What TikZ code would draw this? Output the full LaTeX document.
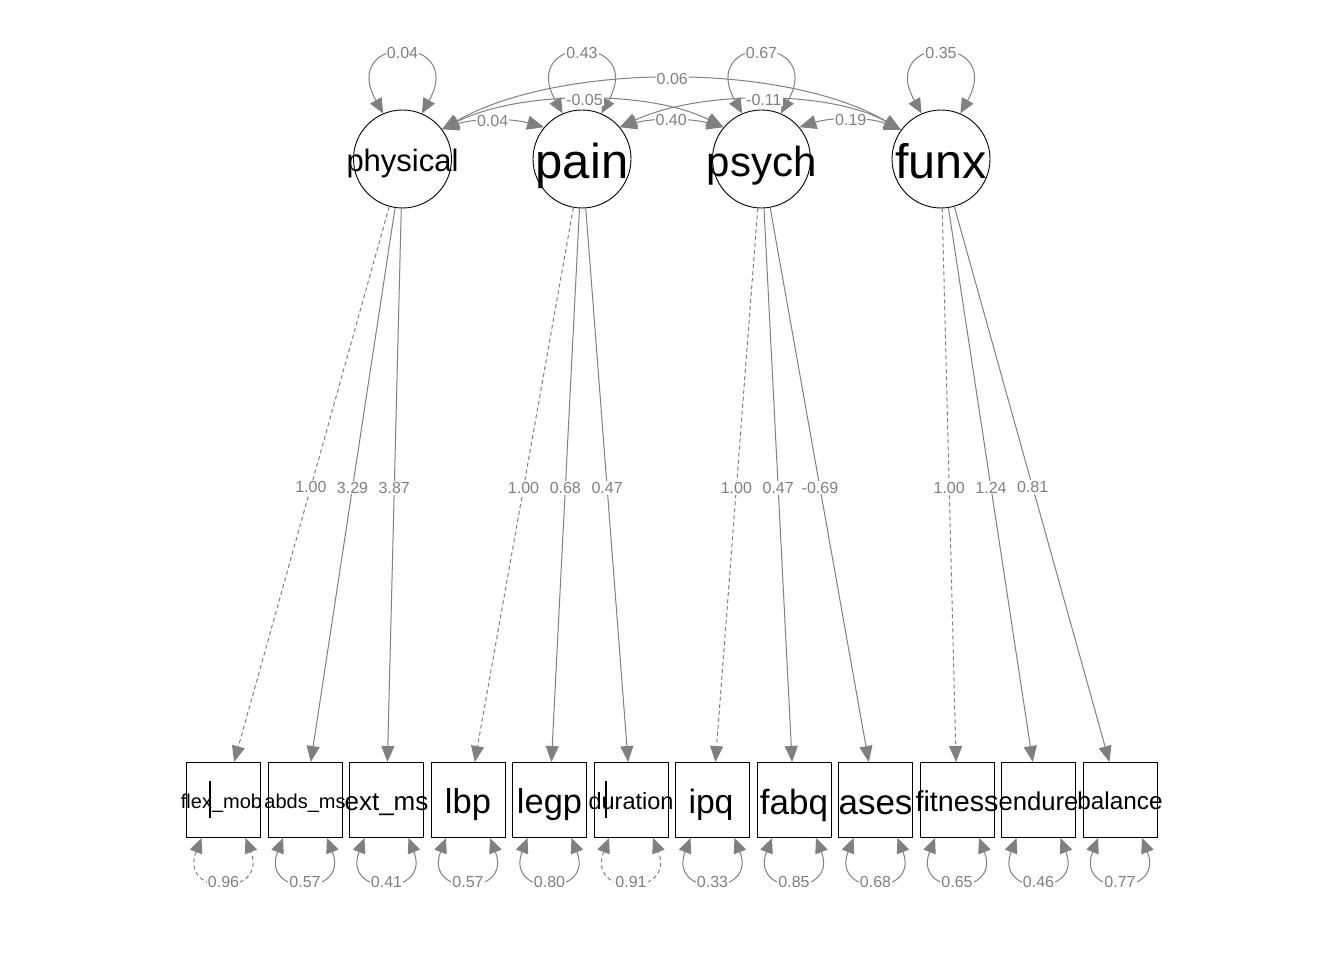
\documentclass[tikz,border=0pt]{standalone}
\usepackage{fontspec}
\setmainfont{Liberation Sans}
\usetikzlibrary{arrows.meta,calc}
\newcommand\fsz[1]{\fontsize{#1}{#1}\selectfont}
\definecolor{edgec}{HTML}{808080}
\begin{document}
\begin{tikzpicture}[x=1pt,y=-1pt,
 lat/.style={circle,draw=black,line width=0.9pt,minimum size=98pt,inner sep=0pt},
 man/.style={rectangle,draw=black,line width=1pt,minimum width=74pt,minimum height=75pt,inner sep=0pt},
 txt/.style={anchor=base,inner sep=0pt,text=black},
 edg/.style={draw=edgec,color=edgec,line width=1pt},
 arr/.style={edg,-{Triangle[length=16pt,width=13pt]}},
 barr/.style={edg,{Triangle[length=15pt,width=13pt]}-{Triangle[length=15pt,width=13pt]}},
 carr/.style={edg,{Triangle[length=17pt,width=14pt]}-{Triangle[length=17pt,width=14pt]}},
 fixedline/.style={dash pattern=on 4pt off 3pt},
 lab/.style={fill=white,inner sep=1pt,text=edgec,font=\fsz{16}},
]
\useasboundingbox (0,0) rectangle (1344,960);

% latent variables
\node[lat] (physical) at (402.5,159) {};
\node[lat] (pain) at (582,159) {};
\node[lat] (psych) at (761.5,159) {};
\node[lat] (funx) at (941,159) {};
\node[txt,font=\fsz{31}] (physicalT) at (402.5,172) {physical};
\node[txt,font=\fsz{49}] (painT) at (582,178.6) {pain};
\node[txt,font=\fsz{42}] (psychT) at (761.5,176.5) {psych};
\node[txt,font=\fsz{48.5}] (funxT) at (941,178.4) {funx};

% manifest variables
\node[man] (fm) at (223.5,800) {};
\node[man] (ab) at (305,800) {};
\node[man] (ex) at (386.5,800) {};
\node[man] (lb) at (468,800) {};
\node[man] (lg) at (549.5,800) {};
\node[man] (du) at (631,800) {};
\node[man] (ip) at (712.5,800) {};
\node[man] (fa) at (794,800) {};
\node[man] (as) at (875.5,800) {};
\node[man] (fi) at (957,800) {};
\node[man] (en) at (1038.5,800) {};
\node[man] (ba) at (1120,800) {};
\node[txt,font=\fsz{20}] (fmT) at (221.5,808.5) {flex\_mob};
\node[txt,font=\fsz{20}] (abT) at (305,808.5) {abds\_ms};
\node[txt,font=\fsz{26}] (exT) at (386.5,810.4) {ext\_ms};
\node[txt,font=\fsz{34.5}] (lbT) at (468,813.8) {lbp};
\node[txt,font=\fsz{34.4}] (lgT) at (549.5,813.8) {legp};
\node[txt,font=\fsz{23.5}] (duT) at (631,809.4) {duration};
\node[txt,font=\fsz{33.7}] (ipT) at (711,813.5) {ipq};
\node[txt,font=\fsz{35}] (faT) at (794,814) {fabq};
\node[txt,font=\fsz{35}] (asT) at (875.5,814) {ases};
\node[txt,font=\fsz{28.7}] (fiT) at (957,811.5) {fitness};
\node[txt,font=\fsz{25.7}] (enT) at (1038.5,810.3) {endure};
\node[txt,font=\fsz{24.3}] (baT) at (1120,809.7) {balance};
\draw[black,line width=2pt] (210,781) -- (210,818);
\draw[black,line width=2pt] (606,781) -- (606,818);

% loadings
\draw[arr,fixedline] (physical) -- (fm) node[lab,pos=0.505] {1.00};
\draw[arr] (physical) -- (ab) node[lab,pos=0.505] {3.29};
\draw[arr] (physical) -- (ex) node[lab,pos=0.505] {3.87};
\draw[arr,fixedline] (pain) -- (lb) node[lab,pos=0.505] {1.00};
\draw[arr] (pain) -- (lg) node[lab,pos=0.505] {0.68};
\draw[arr] (pain) -- (du) node[lab,pos=0.505] {0.47};
\draw[arr,fixedline] (psych) -- (ip) node[lab,pos=0.505] {1.00};
\draw[arr] (psych) -- (fa) node[lab,pos=0.505] {0.47};
\draw[arr] (psych) -- (as) node[lab,pos=0.505] {-0.69};
\draw[arr,fixedline] (funx) -- (fi) node[lab,pos=0.505] {1.00};
\draw[arr] (funx) -- (en) node[lab,pos=0.505] {1.24};
\draw[arr] (funx) -- (ba) node[lab,pos=0.505] {0.81};

% latent variances
\draw[barr] (physical.113) .. controls +(-45,-80) and +(45,-80) .. (physical.67) node[lab,pos=0.5] {0.04};
\draw[barr] (pain.113) .. controls +(-45,-80) and +(45,-80) .. (pain.67) node[lab,pos=0.5] {0.43};
\draw[barr] (psych.113) .. controls +(-45,-80) and +(45,-80) .. (psych.67) node[lab,pos=0.5] {0.67};
\draw[barr] (funx.113) .. controls +(-45,-80) and +(45,-80) .. (funx.67) node[lab,pos=0.5] {0.35};

% latent covariances
\draw[carr] (physical.37) .. controls (560,62) and (785,62) .. (funx.144) node[lab,pos=0.5] {0.06};
\draw[carr] (physical.37) .. controls (520,90) and (650,90) .. (psych.140) node[lab,pos=0.5] {-0.05};
\draw[carr] (pain.40) .. controls (700,90) and (830,90) .. (funx.144) node[lab,pos=0.5] {-0.11};
\draw[carr] (physical.37) .. controls (475,118) and (510,118) .. (pain.140) node[lab,pos=0.5] {0.04};
\draw[carr] (pain.40) .. controls (652,118) and (690,118) .. (psych.140) node[lab,pos=0.5] {0.40};
\draw[carr] (psych.40) .. controls (832,117) and (870,117) .. (funx.144) node[lab,pos=0.5] {0.19};

% residual variances
\draw[barr,fixedline] ($(fm.south)+(-22,0)$) .. controls +(-23,59) and +(23,59) .. ($(fm.south)+(22,0)$) node[lab,pos=0.5] {0.96};
\draw[barr] ($(ab.south)+(-22,0)$) .. controls +(-23,59) and +(23,59) .. ($(ab.south)+(22,0)$) node[lab,pos=0.5] {0.57};
\draw[barr] ($(ex.south)+(-22,0)$) .. controls +(-23,59) and +(23,59) .. ($(ex.south)+(22,0)$) node[lab,pos=0.5] {0.41};
\draw[barr] ($(lb.south)+(-22,0)$) .. controls +(-23,59) and +(23,59) .. ($(lb.south)+(22,0)$) node[lab,pos=0.5] {0.57};
\draw[barr] ($(lg.south)+(-22,0)$) .. controls +(-23,59) and +(23,59) .. ($(lg.south)+(22,0)$) node[lab,pos=0.5] {0.80};
\draw[barr,fixedline] ($(du.south)+(-22,0)$) .. controls +(-23,59) and +(23,59) .. ($(du.south)+(22,0)$) node[lab,pos=0.5] {0.91};
\draw[barr] ($(ip.south)+(-22,0)$) .. controls +(-23,59) and +(23,59) .. ($(ip.south)+(22,0)$) node[lab,pos=0.5] {0.33};
\draw[barr] ($(fa.south)+(-22,0)$) .. controls +(-23,59) and +(23,59) .. ($(fa.south)+(22,0)$) node[lab,pos=0.5] {0.85};
\draw[barr] ($(as.south)+(-22,0)$) .. controls +(-23,59) and +(23,59) .. ($(as.south)+(22,0)$) node[lab,pos=0.5] {0.68};
\draw[barr] ($(fi.south)+(-22,0)$) .. controls +(-23,59) and +(23,59) .. ($(fi.south)+(22,0)$) node[lab,pos=0.5] {0.65};
\draw[barr] ($(en.south)+(-22,0)$) .. controls +(-23,59) and +(23,59) .. ($(en.south)+(22,0)$) node[lab,pos=0.5] {0.46};
\draw[barr] ($(ba.south)+(-22,0)$) .. controls +(-23,59) and +(23,59) .. ($(ba.south)+(22,0)$) node[lab,pos=0.5] {0.77};
\end{tikzpicture}
\end{document}
